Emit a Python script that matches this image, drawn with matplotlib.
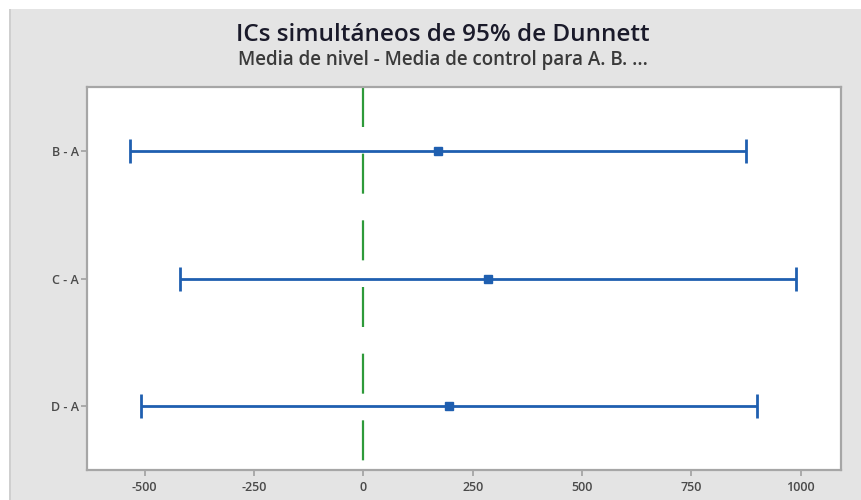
import matplotlib
matplotlib.use("Agg")
import matplotlib.pyplot as plt
from matplotlib.patches import Rectangle

# Data
comparisons = ["B - A", "C - A", "D - A"]
centers = [170, 285, 195]
lower = [-534, -419, -509]
upper = [874, 989, 899]
xticks = [-500, -250, 0, 250, 500, 750, 1000]

plt.rcParams['font.family'] = ['Open Sans', 'DejaVu Sans']

W, H = 862, 500
fig = plt.figure(figsize=(W / 100, H / 100), dpi=100, facecolor='white')

# gray panel
fig.patches.append(Rectangle((9 / W, 0), 1 - 9 / W, 1 - 9 / H, transform=fig.transFigure,
                             facecolor='#e4e4e4', edgecolor='none', zorder=-10))
fig.patches.append(Rectangle((9 / W, 0), 2 / W, 1 - 9 / H, transform=fig.transFigure,
                             facecolor='#cfcfcf', edgecolor='none', zorder=-9))

ax = fig.add_axes([87 / W, 1 - 470 / H, (841 - 87) / W, (470 - 87) / H])
ax.set_facecolor('white')

blue = '#1f5fb0'
ypos = list(range(1, len(comparisons) + 1))
xerr = [[c - l for c, l in zip(centers, lower)], [u - c for c, u in zip(centers, upper)]]

ax.plot([0, 0], [0.5, 3.5], color='#2e9a3a', lw=1.6, linestyle=(0, (18, 12)), zorder=2)
ax.errorbar(centers, ypos, xerr=xerr, fmt='s', color=blue, ecolor=blue,
            elinewidth=2.0, capsize=8.5, capthick=2.0, markersize=6, zorder=3)

ax.set_xlim(-632, 1092)
ax.set_ylim(3.5, 0.5)
ax.set_yticks(ypos)
ax.set_yticklabels(comparisons)
ax.set_xticks(xticks)
ax.set_xticklabels([str(t) for t in xticks])

for s in ax.spines.values():
    s.set_color('#a6a6a6')
    s.set_linewidth(1.6)

ax.tick_params(axis='both', colors='#a0a0a0', labelcolor='#4a4a4a', labelsize=9,
               length=4, width=1.2)
ax.tick_params(axis='x', pad=4)
ax.tick_params(axis='y', pad=2)
for lab in ax.get_xticklabels() + ax.get_yticklabels():
    lab.set_fontweight('semibold')

cx = 443 / W
fig.text(cx, 1 - 35 / H, "ICs simultáneos de 95% de Dunnett", ha='center', va='center',
         fontsize=17.5, fontweight='semibold', color='#1a1a2a')
fig.text(cx, 1 - 60 / H, "Media de nivel - Media de control para A. B. ...", ha='center',
         va='center', fontsize=13.5, fontweight='semibold', color='#3a3a3a')

fig.savefig('out.png', dpi=100, facecolor=fig.get_facecolor())
